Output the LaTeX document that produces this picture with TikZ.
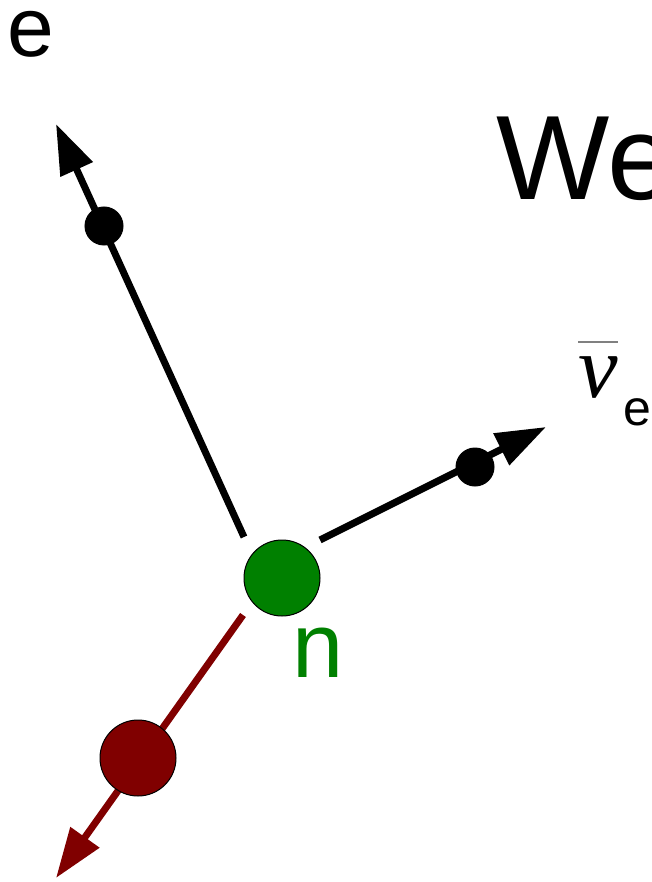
\documentclass[tikz,border=0pt]{standalone}
\usepackage{fontspec}
\setmainfont{Liberation Sans}
\newfontfamily\greekfont{Liberation Serif}
\usetikzlibrary{arrows.meta}
\definecolor{ngreen}{RGB}{0,128,0}
\definecolor{pred}{RGB}{128,0,0}

\begin{document}
\begin{tikzpicture}[x=1pt,y=1pt,yscale=-1,
  track/.style={line width=7pt, -{Triangle[length=50pt,width=34pt]}},
  ball/.style={circle, draw=black, line width=1pt, inner sep=0pt},
  lbl/.style={inner sep=0pt, anchor=base west}]
\useasboundingbox (0,0) rectangle (651,882);

%Neutron
\node [ball, fill=ngreen, minimum size=76pt] (n) at (282,578) {};
\coordinate (estart) at (244,537);
\coordinate (nustart) at (320,540);
\coordinate (pstart) at (243,615);
\coordinate (etip) at (56,124);
\coordinate (nutip) at (546,427);
\coordinate (ptip) at (56,878);

%Tracks
\draw [track] (estart) -- (etip);
\draw [track] (nustart) -- (nutip);
\draw [track, color=pred] (pstart) -- (ptip);

%Particles on the tracks
\node [ball, fill=black, minimum size=38pt] (edot) at (104,226) {};
\node [ball, fill=black, minimum size=38pt] (nudot) at (475,467) {};
\node [ball, fill=pred, minimum size=76pt] (pdot) at (138,758) {};

%Text Nodes
\node [lbl] (elbl) at (7,57) {\fontsize{84}{84}\selectfont e};
\node [lbl] (title) at (496,200) {\fontsize{120}{120}\selectfont We};
\node [lbl, text=ngreen] (nlbl) at (292,677) {\fontsize{92}{92}\selectfont n};
\node [lbl] (nulbl) at (578,397) {\fontsize{89}{89}\selectfont\greekfont\itshape ν};
\node [lbl] (nusub) at (623,425) {\fontsize{50}{50}\selectfont e};
\draw [line width=1.5pt, gray] ([yshift=-14pt]nulbl.north west) -- ([yshift=-14pt]nulbl.north east);

\end{tikzpicture}
\end{document}
